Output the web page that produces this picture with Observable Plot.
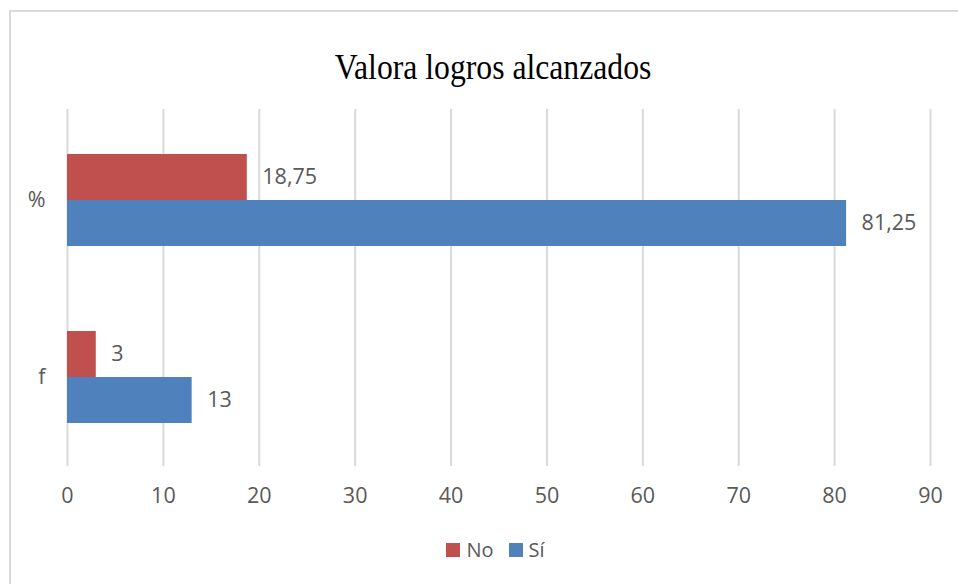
<!DOCTYPE html>
<html>
<head>
<meta charset="utf-8">
<script src="https://cdn.jsdelivr.net/npm/d3@7"></script>
<script src="https://cdn.jsdelivr.net/npm/@observablehq/plot@0.6"></script>
<style>
  html, body { margin: 0; padding: 0; background: #fff; width: 958px; height: 584px; overflow: hidden; }
  #frame { position: absolute; left: 9px; top: 10px; width: 1000px; height: 700px; border: 2px solid #d9d9d9; box-sizing: border-box; }
  #title { position: absolute; left: 0; top: 51px; width: 986px; text-align: center; font-family: "Liberation Serif", "Times New Roman", serif; font-size: 36px; line-height: 32px; color: #000; transform: scaleX(0.88); transform-origin: 493px 0; }
  #chart { position: absolute; left: 0; top: 94px; }
  #legend { position: absolute; left: 0; top: 533px; width: 1006px; display: flex; justify-content: center; }
  .lg-swatches { justify-content: center; margin: 0 !important; }
  .lg-swatch { margin-right: 15px !important; }
  .lg-swatch > svg { margin-right: 6px !important; }
</style>
</head>
<body>
<div id="frame"></div>
<div id="title">Valora logros alcanzados</div>
<div id="chart"></div>
<div id="legend"></div>
<script>
const categories = ["%", "f"];
const series = ["No", "Sí"];
const noValues = [18.75, 3];
const siValues = [81.25, 13];
const xTicks = [0, 10, 20, 30, 40, 50, 60, 70, 80, 90];
const colors = ["#C0504D", "#4F81BD"];

const noData = categories.map((c, i) => ({cat: c, series: "No", value: noValues[i]}));
const siData = categories.map((c, i) => ({cat: c, series: "Sí", value: siValues[i]}));
const fmt = d => String(d.value).replace(".", ",");
const textColor = "#595959";
const font = "'Open Sans', sans-serif";

const plot = Plot.plot({
  width: 958,
  height: 432,
  marginLeft: 67,
  marginRight: 28,
  marginTop: 17,
  marginBottom: 60,
  x: {domain: [0, 90], ticks: xTicks},
  y: {domain: categories, paddingInner: 0.48, paddingOuter: 0.24},
  color: {domain: series, range: colors},
  style: {fontFamily: font, fontSize: "21.5px", color: textColor, background: "transparent", overflow: "visible"},
  marks: [
    Plot.ruleX(xTicks, {stroke: "#d9d9d9", strokeWidth: 2, insetTop: -2}),
    Plot.barX(noData, {x: "value", y: "cat", fill: "series", insetBottom: 46}),
    Plot.barX(siData, {x: "value", y: "cat", fill: "series", insetTop: 46}),
    Plot.text(noData, {x: "value", y: "cat", text: fmt, textAnchor: "start", dx: 15, dy: -23, fill: textColor}),
    Plot.text(siData, {x: "value", y: "cat", text: fmt, textAnchor: "start", dx: 15, dy: 23, fill: textColor}),
    Plot.axisX({ticks: xTicks, tickSize: 0, tickPadding: 21, fill: textColor, label: null}),
    Plot.axisY({tickSize: 0, tickPadding: 22, fill: textColor, label: null})
  ]
});
document.getElementById("chart").appendChild(plot);

const legend = Plot.legend({
  color: {domain: series, range: colors},
  legend: "swatches",
  swatchSize: 14,
  className: "lg",
  style: {fontFamily: font, fontSize: "20px", color: textColor}
});
document.getElementById("legend").appendChild(legend);
</script>
</body>
</html>
